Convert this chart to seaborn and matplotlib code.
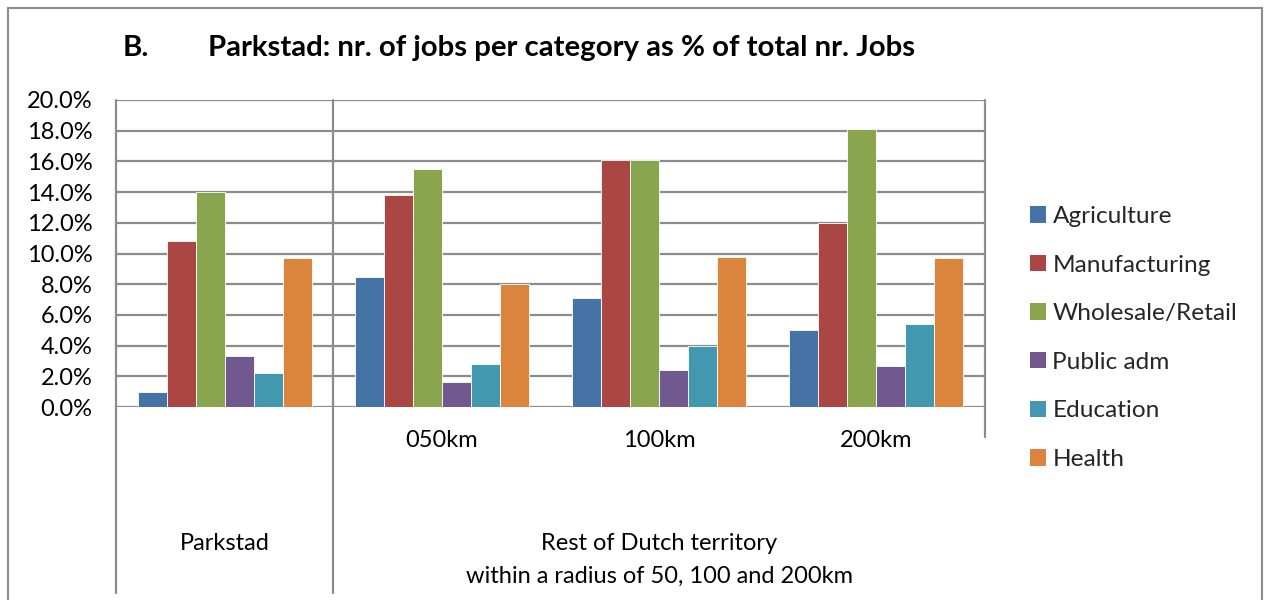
import matplotlib
matplotlib.use("Agg")
import matplotlib.pyplot as plt
from matplotlib.patches import Rectangle
import seaborn as sns
import pandas as pd

groups = ["Parkstad", "050km", "100km", "200km"]
categories = ["Agriculture", "Manufacturing", "Wholesale/Retail",
              "Public adm", "Education", "Health"]
agriculture = [1.0, 8.5, 7.1, 5.0]
manufacturing = [10.8, 13.8, 16.1, 12.0]
wholesale_retail = [14.0, 15.5, 16.1, 18.1]
public_adm = [3.3, 1.6, 2.4, 2.7]
education = [2.2, 2.8, 4.0, 5.4]
health = [9.7, 8.0, 9.8, 9.7]
y_ticks = [0, 2, 4, 6, 8, 10, 12, 14, 16, 18, 20]

colors = ["#4572A7", "#AA4643", "#89A54E", "#71588F", "#4198AF", "#DB843D"]

series = [agriculture, manufacturing, wholesale_retail, public_adm, education, health]
rows = []
for cat, vals in zip(categories, series):
    for g, v in zip(groups, vals):
        rows.append({"group": g, "category": cat, "value": v})
df = pd.DataFrame(rows)

sns.set_theme(style="white")
plt.rcParams["font.family"] = ["Lato", "DejaVu Sans"]

W, H = 1264, 600
fig = plt.figure(figsize=(W / 100, H / 100), dpi=100)
ax = fig.add_axes([116 / W, 1 - 407 / H, (985 - 116) / W, (407 - 100) / H])

sns.barplot(data=df, x="group", y="value", hue="category", order=groups,
            hue_order=categories, palette=colors, saturation=1, width=0.8,
            edgecolor="white", linewidth=0.6, ax=ax, legend=True)

grid_c = "#8c8c8c"
fs = 17
ax.set_xlim(-0.5, 3.5)
ax.set_ylim(0, 20)
ax.set_yticks(y_ticks)
ax.set_yticklabels([f"{t:.1f}%" for t in y_ticks], fontsize=fs, color="black")
ax.tick_params(axis="y", length=0, pad=17)
ax.set_xticks([])
ax.set_xlabel("")
ax.set_ylabel("")
for s in ax.spines.values():
    s.set_visible(False)
for t in y_ticks:
    ax.axhline(t, color=grid_c, lw=1.6, zorder=0)
ax.set_axisbelow(True)

# category-axis dividers
bottom = (407 - 593) / 307
ax.axvline(-0.5, ymin=bottom, ymax=1, color=grid_c, lw=1.6, clip_on=False)
ax.axvline(0.5, ymin=bottom, ymax=1, color=grid_c, lw=1.6, clip_on=False)
ax.axvline(3.5, ymin=(407 - 437) / 307, ymax=1, color=grid_c, lw=1.6, clip_on=False)

for i, g in enumerate(groups[1:], start=1):
    ax.text(i, -2.15, g, ha="center", va="center", fontsize=fs, color="black")
ax.text(0, -8.9, "Parkstad", ha="center", va="center", fontsize=fs, color="black")
ax.text(2, -8.9, "Rest of Dutch territory", ha="center", va="center",
        fontsize=fs, color="black")
ax.text(2, -11.05, "within a radius of 50, 100 and 200km", ha="center",
        va="center", fontsize=fs, color="black")

leg = ax.legend(loc="center left", bbox_to_anchor=(1030 / W, 1 - 338 / H),
                bbox_transform=fig.transFigure, frameon=False, fontsize=17.6,
                handlelength=0.66, handleheight=0.66, handletextpad=0.26,
                labelspacing=1.13, borderaxespad=0, borderpad=0)
for h in leg.legend_handles:
    h.set_edgecolor("none")

fig.text(123 / W, 1 - 48 / H, "B.", ha="left", va="center", fontsize=21.2,
         fontweight="bold", color="black")
fig.text(208 / W, 1 - 48 / H, "Parkstad: nr. of jobs per category as % of total nr. Jobs",
         ha="left", va="center", fontsize=21.2, fontweight="bold", color="black")

fig.patches.append(Rectangle((8 / W, -0.01), (1262 - 8) / W, 1 - 8 / H + 0.01,
                             transform=fig.transFigure, fill=False,
                             edgecolor=grid_c, lw=1.5))

fig.savefig("out.png", dpi=100)
